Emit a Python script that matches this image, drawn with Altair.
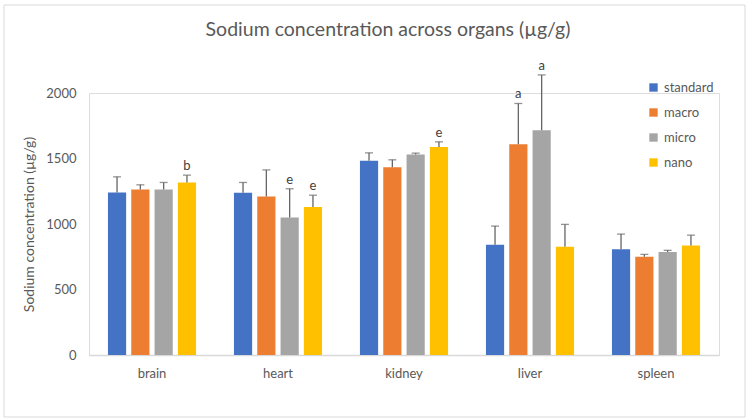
import altair as alt
import pandas as pd

organs = ["brain", "heart", "kidney", "liver", "spleen"]
series = ["standard", "macro", "micro", "nano"]

# mean sodium concentration (µg/g) per organ, one list per formulation
standard = [1240, 1238, 1482, 841, 808]
macro = [1264, 1210, 1434, 1609, 750]
micro = [1264, 1050, 1531, 1716, 786]
nano = [1317, 1129, 1587, 826, 835]

# standard deviation (upper whisker length)
standard_err = [120, 79, 61, 143, 115]
macro_err = [35, 203, 56, 311, 18]
micro_err = [53, 219, 10, 422, 13]
nano_err = [56, 91, 40, 171, 80]

# significance letters
standard_sig = ["", "", "", "", ""]
macro_sig = ["", "", "", "a", ""]
micro_sig = ["", "e", "", "a", ""]
nano_sig = ["b", "e", "e", "", ""]

colors = ["#4472C4", "#ED7D31", "#A5A5A5", "#FFC000"]

rows = []
for name, means, errs, sigs in [
    ("standard", standard, standard_err, standard_sig),
    ("macro", macro, macro_err, macro_sig),
    ("micro", micro, micro_err, micro_sig),
    ("nano", nano, nano_err, nano_sig),
]:
    for organ, m, e, s in zip(organs, means, errs, sigs):
        rows.append({"organ": organ, "group": name, "value": m,
                     "upper": m + e, "sig": s})
df = pd.DataFrame(rows)

FONT = "Lato"
GREY = "#595959"

x_enc = alt.X("organ:N", sort=organs, title=None,
              scale=alt.Scale(paddingInner=0.26, paddingOuter=0.13),
              axis=alt.Axis(labelAngle=0, labelFont=FONT, labelFontSize=13,
                            labelColor=GREY, labelPadding=12, ticks=False,
                            domainColor="#d9d9d9", domainWidth=1.5))
xoff = alt.XOffset("group:N", sort=series,
                   scale=alt.Scale(paddingInner=0.22, paddingOuter=0.11))
y_scale = alt.Scale(domain=[0, 2000], nice=False)

base = alt.Chart(df)

bars = base.mark_bar().encode(
    x=x_enc,
    xOffset=xoff,
    y=alt.Y("value:Q", scale=y_scale,
            title="Sodium concentration (µg/g)",
            axis=alt.Axis(values=[0, 500, 1000, 1500, 2000], format="d",
                          grid=False, domain=False, ticks=False,
                          labelFont=FONT, labelFontSize=13, labelColor=GREY,
                          labelPadding=13, titleFont=FONT, titleFontSize=14,
                          titleFontWeight="normal", titleColor=GREY,
                          titlePadding=9)),
    color=alt.Color("group:N", sort=series,
                    scale=alt.Scale(domain=series, range=colors),
                    legend=alt.Legend(title=None, orient="none",
                                      legendX=558, legendY=-12,
                                      symbolType="square", symbolSize=70,
                                      symbolStrokeWidth=0,
                                      labelFont=FONT, labelFontSize=13,
                                      labelColor=GREY, rowPadding=11,
                                      labelOffset=4)),
)

whiskers = base.mark_rule(color="#666666", strokeWidth=1.3).encode(
    x=alt.X("organ:N", sort=organs),
    xOffset=xoff,
    y=alt.Y("value:Q", scale=y_scale),
    y2="upper:Q",
)

caps = base.mark_tick(color="#666666", thickness=1.3, size=8).encode(
    x=alt.X("organ:N", sort=organs),
    xOffset=xoff,
    y=alt.Y("upper:Q", scale=y_scale),
)

letters = base.transform_filter(alt.datum.sig != "").mark_text(
    font=FONT, fontSize=13, color="#404040", baseline="bottom", dy=-2
).encode(
    x=alt.X("organ:N", sort=organs),
    xOffset=xoff,
    y=alt.Y("upper:Q", scale=y_scale),
    text="sig:N",
)

frame = alt.Chart(alt.Data(values=[{}])).mark_rect(
    fill=None, stroke="#d9d9d9", strokeWidth=1
).encode(
    x=alt.value(-85), x2=alt.value(656),
    y=alt.value(-88), y2=alt.value(324),
)

chart = alt.layer(frame, bars, whiskers, caps, letters).properties(
    width=630,
    height=262,
    autosize=alt.AutoSizeParams(type="none"),
    padding={"left": 89, "top": 93, "right": 30, "bottom": 65},
    title=alt.TitleParams("Sodium concentration across organs (µg/g)",
                          font=FONT, fontSize=19.5, fontWeight="normal",
                          color=GREY, anchor="middle", dx=-16, offset=10,
                          dy=46),
).configure_view(stroke=None).configure(background="white")

chart.save("out.html", embed_options={"renderer": "svg", "actions": False})
